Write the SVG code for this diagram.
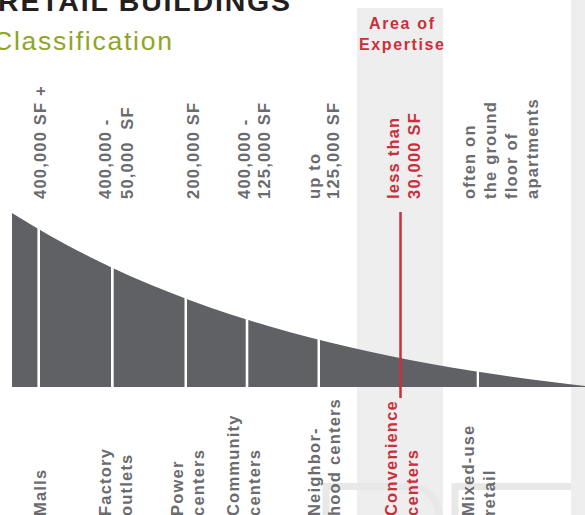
<svg xmlns="http://www.w3.org/2000/svg" width="585" height="515" viewBox="0 0 585 515">
  <style>
    .title { font-family: "Liberation Sans", Arial, sans-serif; font-weight: bold; font-size: 28.5px; fill: #231f20; }
    .sub { font-family: "Liberation Sans", Arial, sans-serif; font-size: 26.5px; fill: #8da628; }
    .lbl { font-family: "Liberation Sans", Arial, sans-serif; font-weight: bold; font-size: 16.5px; letter-spacing: 1.2px; fill: #6a6b6e; }
    .red { fill: #cc2f3c; }
    .head { font-family: "Liberation Sans", Arial, sans-serif; font-weight: bold; font-size: 16px; fill: #cc2f3c; text-anchor: middle; }
    .seg { fill: #5f6165; }
    .mark { fill: none; stroke: #e8e8e8; stroke-width: 7; }
  </style>
  <defs>
    <!-- decaying size curve used to clip the bars -->
    <clipPath id="curve">
      <polygon points="12,387 12,213 30,224.1 50,235.7 70,246.7 90,257 110,266.7 130,275.9 150,284.5 170,292.6 190,300.2 210,307.4 230,314.2 250,320.6 270,326.6 290,332.3 310,337.6 330,342.6 350,347.3 370,351.8 390,356 410,359.9 430,363.7 450,367.2 470,370.5 490,373.6 510,376.5 530,379.2 550,381.8 570,384.3 585,386 585,387"/>
    </clipPath>
  </defs>

  <rect width="585" height="515" fill="#ffffff"/>

  <!-- highlighted column and right margin strip -->
  <rect x="357" y="8" width="86" height="507" fill="#eeeeee"/>
  <rect x="571" y="0" width="14" height="515" fill="#efeeef"/>

  <!-- faint background lettering -->
  <path class="mark" d="M326,515 V486.5 H412 Q437,490 439,515"/>
  <path class="mark" d="M455,515 V486.5 H571"/>

  <!-- title -->
  <text class="title" x="-2" y="11" textLength="292" lengthAdjust="spacing">RETAIL BUILDINGS</text>
  <text class="sub" x="-7" y="49.5" textLength="179" lengthAdjust="spacing">Classification</text>

  <g id="expertise-heading">
    <text class="head" x="401.5" y="29.3" textLength="65" lengthAdjust="spacing">Area of</text>
    <text class="head" x="401.5" y="50" textLength="85" lengthAdjust="spacing">Expertise</text>
  </g>

  <!-- bars, split into retail types -->
  <g clip-path="url(#curve)">
    <g id="malls"><rect class="seg" x="12" y="200" width="25.4" height="187"/></g>
    <g id="factory-outlets"><rect class="seg" x="40" y="200" width="71" height="187"/></g>
    <g id="power-centers"><rect class="seg" x="113.7" y="200" width="70.8" height="187"/></g>
    <g id="community-centers"><rect class="seg" x="187" y="200" width="58.7" height="187"/></g>
    <g id="neighborhood-centers"><rect class="seg" x="248.3" y="200" width="69.2" height="187"/></g>
    <g id="convenience-centers"><rect class="seg" x="320" y="200" width="156.7" height="187"/></g>
    <g id="mixed-use-retail"><rect class="seg" x="479" y="200" width="106" height="187"/></g>
  </g>

  <!-- expertise marker -->
  <g id="connectors">
    <line x1="400.5" y1="212" x2="400.5" y2="398" stroke="#cc2f3c" stroke-width="2.5"/>
  </g>

  <!-- size labels (read bottom to top) -->
  <g id="sizes">
    <text class="lbl" transform="translate(46,199) rotate(-90)">400,000 SF +</text>
    <text class="lbl" transform="translate(111,199) rotate(-90)">400,000 -</text>
    <text class="lbl" transform="translate(133,199) rotate(-90)" xml:space="preserve">50,000  SF</text>
    <text class="lbl" transform="translate(199,199) rotate(-90)">200,000 SF</text>
    <text class="lbl" transform="translate(249.5,199) rotate(-90)">400,000 -</text>
    <text class="lbl" transform="translate(270,199) rotate(-90)">125,000 SF</text>
    <text class="lbl" transform="translate(319.5,199) rotate(-90)">up to</text>
    <text class="lbl" transform="translate(339,199) rotate(-90)">125,000 SF</text>
    <text class="lbl red" transform="translate(399,199) rotate(-90)">less than</text>
    <text class="lbl red" transform="translate(420,199) rotate(-90)">30,000 SF</text>
    <text class="lbl" transform="translate(475,199) rotate(-90)">often on</text>
    <text class="lbl" transform="translate(496,199) rotate(-90)">the ground</text>
    <text class="lbl" transform="translate(517,199) rotate(-90)">floor of</text>
    <text class="lbl" transform="translate(538,199) rotate(-90)">apartments</text>
  </g>

  <!-- type labels -->
  <g id="types">
    <text class="lbl" transform="translate(45.5,516) rotate(-90)">Malls</text>
    <text class="lbl" transform="translate(110.5,516) rotate(-90)">Factory</text>
    <text class="lbl" transform="translate(132,516) rotate(-90)">outlets</text>
    <text class="lbl" transform="translate(182.5,516) rotate(-90)">Power</text>
    <text class="lbl" transform="translate(204,516) rotate(-90)">centers</text>
    <text class="lbl" transform="translate(239,516) rotate(-90)">Community</text>
    <text class="lbl" transform="translate(260,516) rotate(-90)">centers</text>
    <text class="lbl" transform="translate(320,516) rotate(-90)">Neighbor-</text>
    <text class="lbl" transform="translate(340,516) rotate(-90)">hood centers</text>
    <text class="lbl red" transform="translate(397,516) rotate(-90)">Convenience</text>
    <text class="lbl red" transform="translate(418,516) rotate(-90)">centers</text>
    <text class="lbl" transform="translate(474,516) rotate(-90)">Mixed-use</text>
    <text class="lbl" transform="translate(495,516) rotate(-90)">retail</text>
  </g>
</svg>
